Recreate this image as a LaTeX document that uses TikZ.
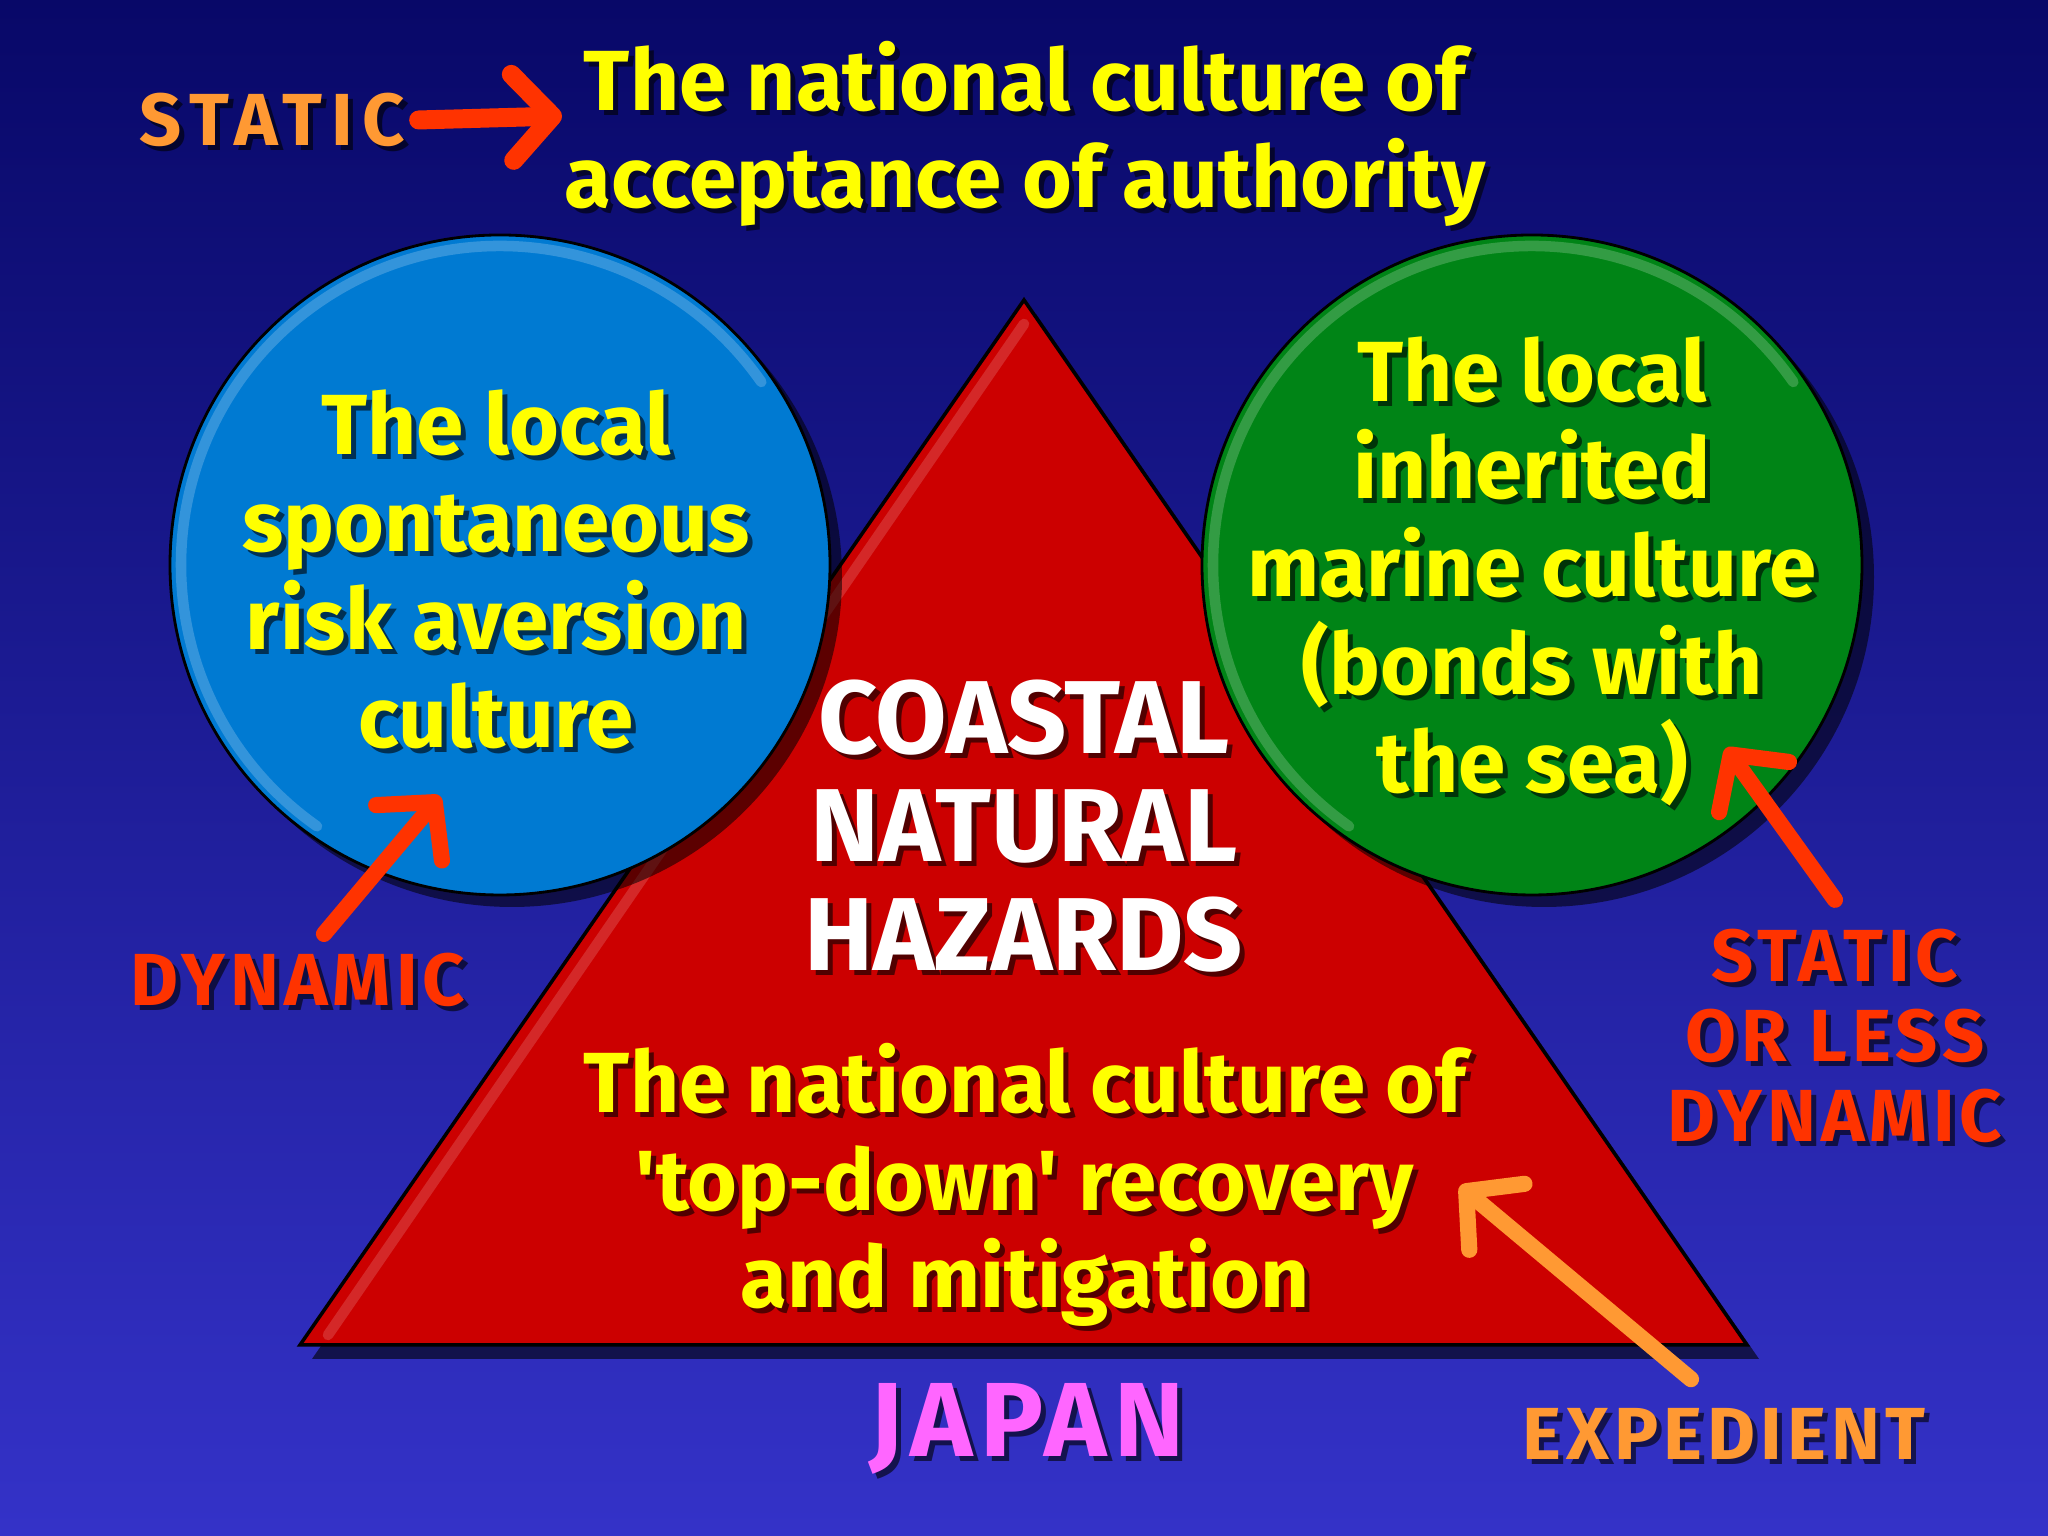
\documentclass[tikz,border=0pt]{standalone}
\usepackage{fontspec}
\setmainfont{Fira Sans}
\newfontfamily\spacedfont[LetterSpace=7]{Fira Sans}
\newfontfamily\widefont[LetterSpace=12]{Fira Sans}
\usetikzlibrary{arrows.meta,shadows,calc}

\definecolor{bgtop}{RGB}{8,8,104}
\definecolor{bgbot}{RGB}{52,50,200}
\definecolor{hazred}{RGB}{204,0,0}
\definecolor{riskblue}{RGB}{0,122,210}
\definecolor{marinegreen}{RGB}{0,132,22}
\definecolor{cultyellow}{RGB}{255,255,0}
\definecolor{tagorange}{RGB}{255,153,51}
\definecolor{tagred}{RGB}{255,51,0}
\definecolor{tagpink}{RGB}{255,102,255}

% text with a dark drop shadow: name, position, style, text
\newcommand{\shadowtext}[4]{%
  \node[#3, text=black, text opacity=0.6] at ($(#2)+(0.05,-0.05)$) {#4};
  \node[#3] (#1) at (#2) {#4};
}

\tikzset{
  culture/.style={align=center, inner sep=0pt, text=cultyellow,
    font=\bfseries\fontsize{24.3}{27.8}\selectfont},
  hazard/.style={align=center, inner sep=0pt, text=white,
    font=\bfseries\fontsize{29.5}{30.8}\selectfont},
  tag/.style={align=center, inner sep=1pt,
    font=\spacedfont\bfseries\fontsize{21}{22.8}\selectfont},
  bubble/.style={circle, minimum size=6.6cm, draw=black, line width=0.8pt,
    drop shadow={shadow xshift=0.12cm, shadow yshift=-0.12cm, opacity=0.55, fill=black}},
  bevel/.style={line width=3pt, line cap=round, opacity=0.4},
  pointer/.style={line width=4.6pt, line cap=round, line join=round,
    -{Straight Barb[length=4mm, width=8.6mm, round]}}
}

\begin{document}
\begin{tikzpicture}
  % Background
  \useasboundingbox (0,0) rectangle (20.48,15.36);
  \shade[top color=bgtop, bottom color=bgbot] (0,0) rectangle (20.48,15.36);

  % Hazard triangle
  \coordinate (apex) at (10.24,12.36);
  \coordinate (baseL) at (3.00,1.91);
  \coordinate (baseR) at (17.47,1.91);
  \filldraw[fill=hazred, draw=black, line width=1pt,
    drop shadow={shadow xshift=0.12cm, shadow yshift=-0.14cm, opacity=0.6, fill=black}]
    (apex) -- (baseR) -- (baseL) -- cycle;
  \draw[bevel, hazred!60!white] ($(apex)+(0,-0.24)$) -- ($(baseL)+(0.28,0.1)$);

  % Local cultures
  \node[bubble, fill=riskblue] (riskc) at (5.00,9.71) {};
  \node[bubble, fill=marinegreen] (marinec) at (15.32,9.71) {};
  \draw[bevel, riskblue!50!white] ($(riskc.center)+(35:3.19)$) arc[start angle=35, end angle=235, radius=3.19];
  \draw[bevel, marinegreen!50!white] ($(marinec.center)+(35:3.19)$) arc[start angle=35, end angle=235, radius=3.19];

  % Texts
  \shadowtext{natl}{10.25,14.02}{culture}{The national culture of\\acceptance of authority}
  \shadowtext{risk}{4.96,9.67}{culture}{The local\\spontaneous\\risk aversion\\culture}
  \shadowtext{marine}{15.32,9.65}{culture}{The local\\inherited\\marine culture\\(bonds with\\the sea)}
  \shadowtext{haz}{10.24,7.10}{hazard}{COASTAL\\NATURAL\\HAZARDS}
  \shadowtext{topdown}{10.25,3.51}{culture}{The national culture of\\\textquotesingle top-down\textquotesingle{} recovery\\and mitigation}

  % Labels
  \shadowtext{static}{2.72,14.16}{tag, text=tagorange, font=\widefont\bfseries\fontsize{21}{22}\selectfont}{STATIC}
  \shadowtext{dyn}{2.98,5.56}{tag, text=tagred}{DYNAMIC}
  \shadowtext{less}{18.35,5.00}{tag, text=tagred}{STATIC\\OR LESS\\DYNAMIC}
  \shadowtext{exped}{17.24,1.02}{tag, text=tagorange}{EXPEDIENT}
  \shadowtext{japan}{10.27,1.07}{hazard, text=tagpink, font=\spacedfont\bfseries\fontsize{30}{30.8}\selectfont}{JAPAN}

  % Arrows
  \coordinate (statictip) at (5.62,14.20);
  \coordinate (dyntip) at (4.40,7.40);
  \coordinate (lesstip) at (17.26,7.88);
  \coordinate (expedtip) at (14.60,3.50);
  \draw[pointer, tagred, line width=5.4pt] (static.east) ++(0.1,0) -- (statictip);
  \draw[pointer, tagred] ([xshift=2.6mm, yshift=1.5mm]dyn.north) -- (dyntip);
  \draw[pointer, tagred] ([yshift=2.5mm]less.north) -- (lesstip);
  \draw[pointer, tagorange] ([xshift=-3.3mm, yshift=2.5mm]exped.north) -- (expedtip);
\end{tikzpicture}
\end{document}
